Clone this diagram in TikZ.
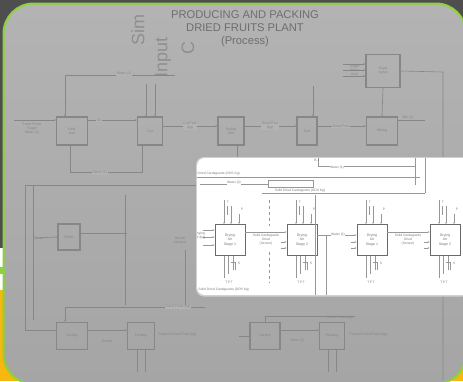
\documentclass[tikz,border=0pt]{standalone}
\usepackage{fontspec}
\setmainfont{Liberation Sans}
\usetikzlibrary{arrows.meta,calc}
\definecolor{darkbg}{HTML}{4E4E4E}
\definecolor{brd}{HTML}{8DD336}
\definecolor{ylw}{HTML}{F6B70E}
\definecolor{fillA}{HTML}{B3B3B3}
\definecolor{fillB}{HTML}{A5A5A5}
\definecolor{bgl}{HTML}{878787}
\definecolor{bgt}{HTML}{858585}
\definecolor{ttl}{HTML}{6E6E6E}
\definecolor{wm}{HTML}{8F8F8F}
\definecolor{inl}{HTML}{6A6A6A}
\definecolor{intx}{HTML}{7A7A7A}
\begin{document}
\begin{tikzpicture}[x=1pt,y=-1pt,
  bgbox/.style={draw=bgl, line width=1.2pt, inner sep=0pt, align=center, text=bgt, font=\fontsize{3.5}{4}\selectfont},
  bgtxt/.style={text=bgt, font=\fontsize{3.5}{4}\selectfont, inner sep=0.5pt, align=center},
  bgln/.style={draw=bgl, line width=0.6pt},
  bgar/.style={bgln, -{Stealth[length=2pt,width=1.6pt]}},
  ttlfont/.style={text=ttl, font=\fontsize{11.2}{12}\selectfont, inner sep=0pt},
  wmtxt/.style={text=wm, font=\fontsize{18}{20}\selectfont, inner sep=0pt},
  ibox/.style={draw=inl, line width=0.8pt, fill=white, minimum width=30pt, minimum height=31pt, inner sep=0pt, align=center, font=\fontsize{3.6}{4.3}\selectfont, text=intx},
  iln/.style={draw=inl!70, line width=0.5pt},
  iar/.style={iln, -{Stealth[length=2pt,width=1.6pt]}},
  itxt/.style={text=intx, font=\fontsize{3.3}{3.9}\selectfont, inner sep=0.5pt, align=center}]
\useasboundingbox (0,0) rectangle (463,381);
% outer background
\fill[darkbg] (0,0) rectangle (463,381);
\fill[white] (0,248) rectangle (30,290);
\fill[brd] (0,267) rectangle (30,274);
\fill[ylw] (0,290) rectangle (60,381);
\fill[ylw] (420,340) rectangle (463,381);
% main panel
\shade[top color=fillA, bottom color=fillB, rounded corners=30pt] (3.5,3.5) rectangle (466,384);
\draw[brd, line width=2pt, rounded corners=30pt] (3.5,3.5) rectangle (466,384);

% watermark and title
\node[wmtxt, rotate=90, anchor=west] (wm1) at (138,46) {Sim};
\node[wmtxt, rotate=90, anchor=west] (wm2) at (163,78) {Input};
\node[wmtxt, rotate=90] (wm3) at (188,48) {C};
\node[ttlfont] (title1) at (245,15) {PRODUCING AND PACKING};
\node[ttlfont] (title2) at (245,28) {DRIED FRUITS PLANT};
\node[ttlfont] (title3) at (245,42) {(Process)};

% background blocks
\node[bgbox, minimum width=31pt, minimum height=28pt] (B1) at (72,131) {Peel\\Unit};
\node[bgbox, minimum width=25pt, minimum height=28pt] (B2) at (150,131) {Cut};
\node[bgbox, minimum width=26pt, minimum height=28pt] (B3) at (231,131) {Drying\\Unit};
\node[bgbox, minimum width=20pt, minimum height=28pt] (B4) at (307,131) {Sort};
\node[bgbox, minimum width=31pt, minimum height=28pt] (B5) at (382,131) {Mixing};
\node[bgbox, minimum width=34pt, minimum height=33pt] (B6) at (383,71) {Sugar\\Syrup};
\node[bgbox, minimum width=22pt, minimum height=26pt] (B7) at (69,237) {Boiler};
\node[bgbox, minimum width=31pt, minimum height=27pt] (B8) at (72,336) {Sorting};
\node[bgbox, minimum width=27pt, minimum height=27pt] (B9) at (141,336) {Packing};
\node[bgbox, minimum width=30pt, minimum height=27pt] (B10) at (265,336) {Sorting};
\node[bgbox, minimum width=25pt, minimum height=27pt] (B11) at (332,336) {Packing};

% background connectors
\coordinate (i1) at (14,120);
\draw[bgar] (i1) -- (i1 -| B1.west);
\node[bgtxt] (l1) at (32,129) {Fresh Fruits\\Sugar\\Water (1)};
\draw[bgar] ($(B1.east)+(0,-11)$) -- ($(B2.west)+(0,-11)$);
\node[bgtxt, fill=fillA] (l2) at (99,120) {Oil};
\draw[bgar] ($(B2.east)+(0,-5)$) -- ($(B3.west)+(0,-5)$);
\node[bgtxt, fill=fillA] (l3) at (190,126) {Cut Fruit\\(kg)};
\draw[bgar] ($(B3.east)+(0,-5)$) -- ($(B4.west)+(0,-5)$);
\node[bgtxt, fill=fillA] (l4) at (270,126) {Dried Fruit\\(kg)};
\draw[bgar] ($(B4.east)+(0,-5)$) -- ($(B5.west)+(0,-5)$);
\node[bgtxt, fill=fillA] (l5) at (341,126) {Dried Fruit};
\draw[bgar] (B6.south) -- (B5.north);
\coordinate (o5) at (425,120);
\draw[bgln] ($(B5.east)+(0,-11)$) -- (o5);
\node[bgtxt, anchor=west] (l6) at (402,118) {Mix (1)};
\foreach \yy in {-7,-1,5} {\draw[bgar] ($(B6.west)+(-22,\yy)$) -- ($(B6.west)+(0,\yy)$);}
\node[bgtxt, anchor=east] (l7) at (360,70) {Sugar\\Water\\Acid};
\coordinate (r1) at (443,72);
\coordinate (r2) at (443,380);
\draw[bgln] (B6.east) -- (r1) -- (r2);
\coordinate (w1) at (65,75);
\coordinate (w2) at (175,75);
\draw[bgln] (w1) -- (w2);
\draw[bgar] (w1) -- (w1 |- B1.north);
\node[bgtxt, fill=fillA] (l8) at (124,74) {Water (1)};
\foreach \xx in {-4,5} {\draw[bgar] ($(B2.north)+(\xx,-32)$) -- ($(B2.north)+(\xx,0)$);}
\draw[bgar] ($(B4.north)+(6,-30)$) -- ($(B4.north)+(6,0)$);
\coordinate (d1) at (70,172);
\coordinate (d2) at (142,172);
\draw[bgln] (B1.south -| d1) -- (d1) -- (d2) -- (B2.south -| d2);
\node[bgtxt, fill=fillA] (l9) at (100,173) {Other (1)};
\draw[bgln] ($(B3.south)+(6,0)$) -- ++(0,16) -- ++(40,0);
% frame on the left
\coordinate (f1) at (25,185);
\coordinate (f2) at (210,185);
\coordinate (f3) at (25,330);
\draw[bgln] (f2) -- (f1) -- (f3) -- (f3 -| B8.west);
\draw[bgln] (33,185) -- (33,320);
\draw[bgar] ($(B7.west)+(-22,1)$) -- (B7.west);
\node[bgtxt, anchor=east] (l10) at (45,238) {Steam};
\draw[bgln] ($(B7.east)+(0,-4)$) -- ++(46,0);
\node[bgtxt] (l11) at (180,240) {Hot air\\exhaust};
\draw[bgln] (125,195) -- (125,305);
\draw[bgln] (185,250) -- (185,305);
\coordinate (p1) at (65,307);
\coordinate (p2) at (205,307);
\draw[bgln] (p1) -- (p2);
\draw[bgar] (p1) -- (p1 |- B8.north);
\node[bgtxt, fill=fillA] (l12) at (178,307) {Dried Fruits (kg)};
\draw[bgar] ($(B8.east)+(0,-6)$) -- ($(B9.west)+(0,-6)$);
\node[bgtxt] (l13) at (107,341) {Sorted};
\node[bgtxt, anchor=west] (l14) at (158,335) {Packed Dried Fruits (kg)};
\draw[bgln] ($(B9.south)+(-4,0)$) -- ++(0,22);
\draw[bgln] ($(B9.south)+(4,0)$) -- ++(0,22);
\draw[bgar] ($(B10.east)+(0,-6)$) -- ($(B11.west)+(0,-6)$);
\node[bgtxt] (l15) at (297,341) {Other (2)};
\node[bgtxt, anchor=west] (l16) at (349,335) {Packed Dried Fruits (kg)};
\draw[bgln] ($(B11.south)+(-4,0)$) -- ++(0,22);
\draw[bgln] ($(B11.south)+(4,0)$) -- ++(0,22);
\draw[bgln] ($(B10.north)+(0,0)$) -- ++(0,-6) -- ++(90,0);
\node[bgtxt] (l17) at (340,318) {Dried Fruits (kg)};
\draw[bgln] ($(B10.west)+(-10,0)$) -- (B10.west);

% inset panel
\fill[black!18, rounded corners=8pt] (196,157) rectangle (470,296.5);
\begin{scope}
\clip[rounded corners=8pt] (197,158) rectangle (470,295);
\fill[white] (197,158) rectangle (470,295);
% top zone
\coordinate (ta) at (197,177);
\coordinate (tb) at (420,177);
\draw[iln] (ta) -- (tb);
\node[itxt, anchor=west, fill=white] (tx1) at (197,174) {Dried Cardaguette (DDS Kg)};
\coordinate (tc) at (200,184);
\coordinate (td) at (268,184);
\draw[iln] (tc) -- (td);
\node[itxt, fill=white] (tx2) at (234,183) {Water (2)};
\draw[iln] (268,180) rectangle (313,187);
\coordinate (te) at (262,193);
\coordinate (tf) at (425,193);
\draw[iln] (te) -- (tf);
\node[itxt, fill=white] (tx3) at (300,191) {Solid Dried Cardaguette (DDS Kg)};
\coordinate (tg) at (415,158);
\coordinate (th) at (415,185);
\draw[iln] (tg) -- (th);
\draw[iln] (425,158) -- (tf);
\draw[iln] (318,158) -- (318,166) -- (415,166);
\node[itxt, fill=white] (tx4) at (337,168) {Water (1)};
\node[itxt] (tx5) at (317,160) {B-1};
% blocks
\node[ibox] (S1) at (230,240) {Drying\\Air\\Stage 1};
\node[ibox] (S2) at (302,240) {Drying\\Air\\Stage 2};
\node[ibox] (S3) at (372,240) {Drying\\Air\\Stage 1};
\node[ibox] (S4) at (445,240) {Drying\\Air\\Stage 2};
\foreach \s in {S1,S2,S3,S4} {
  \draw[iar] ($(\s.north)+(-6,-24)$) -- ($(\s.north)+(-6,0)$);
  \draw[iar] ($(\s.north)+(1,-18)$) -- ($(\s.north)+(1,0)$);
  \draw[iar] ($(\s.north)+(9,-10)$) -- ($(\s.north)+(9,0)$);
  \draw[iln] ($(\s.north)+(-3,-18)$) -- ($(\s.north)+(-3,-9)$);
  \node[itxt] at ($(\s.north)+(12,-15)$) {P};
  \node[itxt] at ($(\s.north)+(-2,-22)$) {T};
  \draw[iln] ($(\s.south)+(-6,0)$) -- ++(0,22);
  \draw[iln] ($(\s.south)+(-2,0)$) -- ++(0,18);
  \draw[iln] ($(\s.south)+(3,0)$) -- ++(0,14);
  \draw[iln] ($(\s.south)+(1,6)$) -- ++(4,0) -- ++(0,8);
  \node[itxt] at ($(\s.south)+(9,7)$) {S};
  \node[itxt] at ($(\s.south)+(-1,26)$) {T\,P\,T};
}
% left inputs
\foreach \yy in {-10,-3,5} {\draw[iar] ($(S1.west)+(-12,\yy)$) -- ($(S1.west)+(0,\yy)$);}
\node[itxt, anchor=east] (tx6) at (206,236) {Drying\\air (kg)};
\foreach \s in {S2,S3,S4} {
  \draw[iar] ($(\s.west)+(-6,2)$) -- ($(\s.west)+(0,2)$);
  \draw[iar] ($(\s.west)+(-6,8)$) -- ($(\s.west)+(0,8)$);
}
% stage connectors
\draw[iar] ($(S1.east)+(0,-8)$) -- ($(S2.west)+(0,-8)$);
\node[itxt, fill=white] (c12) at (266,240) {Solid Cardaguette\\Dried\\(Sensor)};
\draw[iar] ($(S2.east)+(0,-5)$) -- ($(S3.west)+(0,-5)$);
\node[itxt, fill=white] (c23) at (338,235) {Water (1)};
\draw[iar] ($(S3.east)+(0,-8)$) -- ($(S4.west)+(0,-8)$);
\node[itxt, fill=white] (c34) at (408,240) {Solid Cardaguette\\Dried\\(Sensor)};
% vertical lines
\draw[iln, dashed] (269,200) -- (269,226);
\draw[iln, dashed] (269,252) -- (269,283);
\draw[iln] (315,195) -- (315,295);
\draw[iln] (326,235) -- (326,295);
\node[itxt, anchor=west, fill=white] (tx7) at (198,290) {Solid Dried Cardaguette (DDS Kg)};
\end{scope}
\end{tikzpicture}
\end{document}
